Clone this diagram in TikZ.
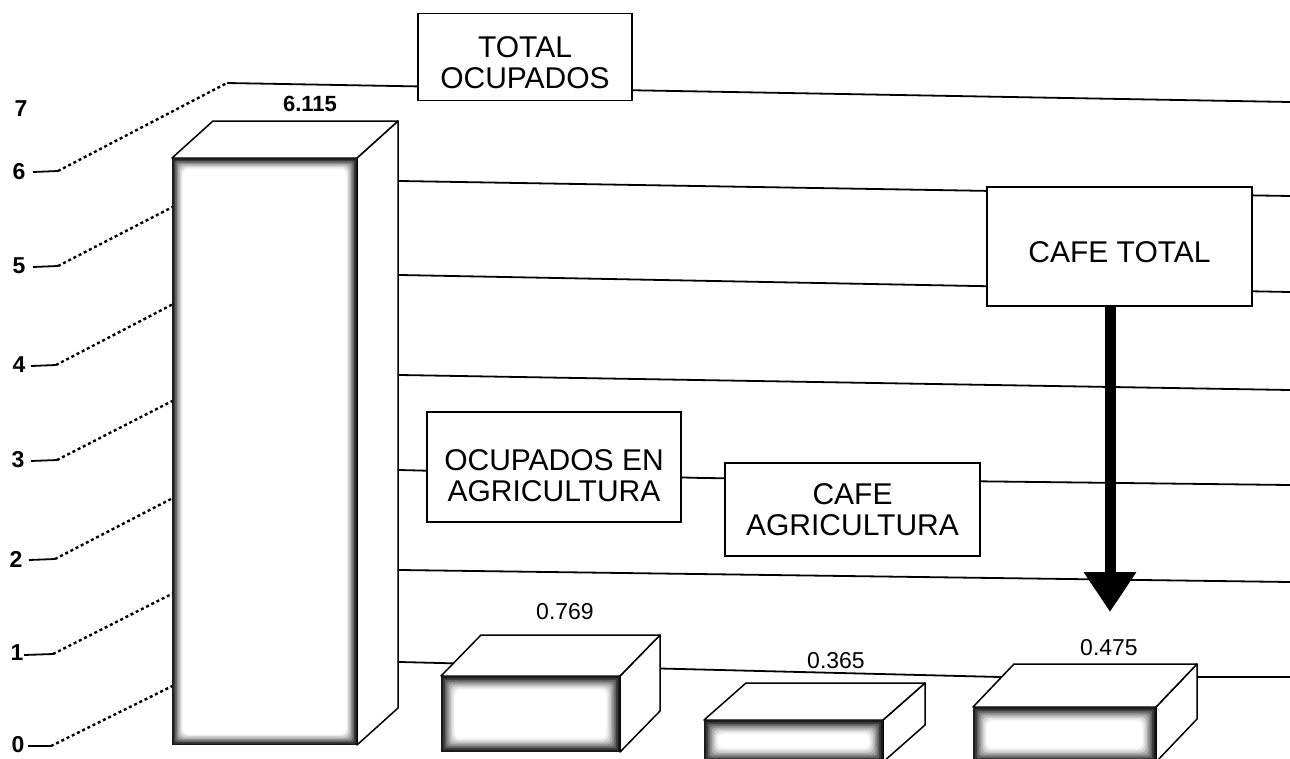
\documentclass[tikz,border=0pt]{standalone}
\usepackage{fontspec}
\setmainfont{Liberation Sans}
\usetikzlibrary{arrows.meta}
\newcommand{\glowface}[5]{%
  \fill[black!90] (#1,#2) rectangle (#3,#4);
  \fill[black!78,rounded corners=1pt] ({#1+1*#5},{#2+1*#5}) rectangle ({#3-1*#5},{#4-1*#5});
  \fill[black!62,rounded corners=2pt] ({#1+2*#5},{#2+2*#5}) rectangle ({#3-2*#5},{#4-2*#5});
  \fill[black!46,rounded corners=3pt] ({#1+3*#5},{#2+3*#5}) rectangle ({#3-3*#5},{#4-3*#5});
  \fill[black!31,rounded corners=4pt] ({#1+4*#5},{#2+4*#5}) rectangle ({#3-4*#5},{#4-4*#5});
  \fill[black!18,rounded corners=5pt] ({#1+5*#5},{#2+5*#5}) rectangle ({#3-5*#5},{#4-5*#5});
  \fill[black!8,rounded corners=6pt] ({#1+6*#5},{#2+6*#5}) rectangle ({#3-6*#5},{#4-6*#5});
  \fill[white,rounded corners=6pt] ({#1+7*#5},{#2+7*#5}) rectangle ({#3-7*#5},{#4-7*#5});
}
\newcommand{\prism}[7]{%
  \filldraw[face] (#3,#2) -- ({#3+#5},{#2+#6}) -- ({#3+#5},{#4+#6}) -- (#3,#4) -- cycle;
  \filldraw[face] (#1,#2) -- ({#1+#5},{#2+#6}) -- ({#3+#5},{#2+#6}) -- (#3,#2) -- cycle;
  \glowface{#1}{#2}{#3}{#4}{#7}
}
\begin{document}
\begin{tikzpicture}[x=1pt,y=-1pt,
  gridline/.style={line width=1.8pt,black},
  dotline/.style={line width=2.4pt,dash pattern=on 3pt off 2.8pt},
  lbl/.style={draw,line width=1.8pt,fill=white,align=center,
    font=\fontsize{30}{31}\selectfont,inner sep=0pt},
  axnum/.style={font=\bfseries\fontsize{23}{24}\selectfont,inner sep=0pt},
  val/.style={font=\fontsize{23}{24}\selectfont,inner sep=0pt},
  face/.style={fill=white,draw=black,line width=1.5pt,line join=round},
  bigarrow/.style={line width=11pt,-{Triangle[length=40pt,width=50pt]}}]
\useasboundingbox (0,0) rectangle (1290,758);
\fill[white] (0,0) rectangle (1290,758);

% grid coordinates
\coordinate (t6a) at (33,172); \coordinate (t6b) at (58,171);
\coordinate (w6) at (227,83); \coordinate (r6) at (1290,102);
\coordinate (t5a) at (33,267); \coordinate (t5b) at (58,266);
\coordinate (w5) at (227,179); \coordinate (b5) at (400,181); \coordinate (r5) at (1290,196);
\coordinate (t4a) at (31,366); \coordinate (t4b) at (56,365);
\coordinate (w4) at (227,276); \coordinate (b4) at (400,275); \coordinate (r4) at (1290,292);
\coordinate (t3a) at (31,461); \coordinate (t3b) at (57,460);
\coordinate (w3) at (227,373); \coordinate (b3) at (400,375); \coordinate (r3) at (1290,390);
\coordinate (t2a) at (29,560); \coordinate (t2b) at (55,559);
\coordinate (w2) at (227,470); \coordinate (b2) at (400,470); \coordinate (m2) at (703,478); \coordinate (r2) at (1290,485);
\coordinate (t1a) at (24,655); \coordinate (t1b) at (53,654);
\coordinate (w1) at (227,566); \coordinate (b1) at (400,570); \coordinate (r1) at (1290,582);
\coordinate (t0a) at (28,746); \coordinate (t0b) at (51,746);
\coordinate (w0) at (227,659); \coordinate (b0) at (400,662); \coordinate (m0) at (1000,677); \coordinate (r0) at (1290,677);

% grid lines
\draw[gridline] (t6a) -- (t6b); \draw[dotline] (t6b) -- (w6); \draw[gridline] (w6) -- (r6);
\draw[gridline] (t5a) -- (t5b); \draw[dotline] (t5b) -- (w5); \draw[gridline] (w5) -- (b5) -- (r5);
\draw[gridline] (t4a) -- (t4b); \draw[dotline] (t4b) -- (w4); \draw[gridline] (w4) -- (b4) -- (r4);
\draw[gridline] (t3a) -- (t3b); \draw[dotline] (t3b) -- (w3); \draw[gridline] (w3) -- (b3) -- (r3);
\draw[gridline] (t2a) -- (t2b); \draw[dotline] (t2b) -- (w2); \draw[gridline] (w2) -- (b2) -- (m2) -- (r2);
\draw[gridline] (t1a) -- (t1b); \draw[dotline] (t1b) -- (w1); \draw[gridline] (w1) -- (b1) -- (r1);
\draw[gridline] (t0a) -- (t0b); \draw[dotline] (t0b) -- (w0); \draw[gridline] (w0) -- (b0) -- (m0) -- (r0);

% label boxes
\node[lbl,minimum width=214pt,minimum height=87pt] (tot) at (525,57) {\rule{0pt}{33pt}TOTAL\\OCUPADOS};
\node[lbl,minimum width=265pt,minimum height=119pt] (ct) at (1119.5,246.5) {\rule{0pt}{33pt}CAFE TOTAL};
\node[lbl,minimum width=254pt,minimum height=110pt] (oa) at (554,467) {\rule{0pt}{38pt}OCUPADOS EN\\AGRICULTURA};
\node[lbl,minimum width=255pt,minimum height=93pt] (ca) at (852.5,509.5) {CAFE\\AGRICULTURA};

% arrow
\coordinate (atip) at (1110,612);
\draw[bigarrow] (ct.south -| atip) -- (atip);

% bars
\prism{172}{158}{357}{745}{41}{-37}{1.5}
\prism{441}{676}{620}{752}{40}{-41}{1.9}
\prism{704}{720}{883}{762}{42}{-37}{1.9}
\prism{973}{707}{1156}{762}{41}{-43}{1.9}

% values
\node[val,font=\bfseries\fontsize{22}{24}\selectfont] (v1) at (310,104) {6.115};
\node[val] (v2) at (565,612) {0.769};
\node[val] (v3) at (836,661) {0.365};
\node[val] (v4) at (1109,648) {0.475};

% axis numbers
\node[axnum] (n7) at (21,109) {7};
\node[axnum] (n6) at (19,172) {6};
\node[axnum] (n5) at (19,266) {5};
\node[axnum] (n4) at (19,365) {4};
\node[axnum] (n3) at (18,460) {3};
\node[axnum] (n2) at (16,559) {2};
\node[axnum] (n1) at (17,653) {1};
\node[axnum] (n0) at (18,745) {0};
\end{tikzpicture}
\end{document}
